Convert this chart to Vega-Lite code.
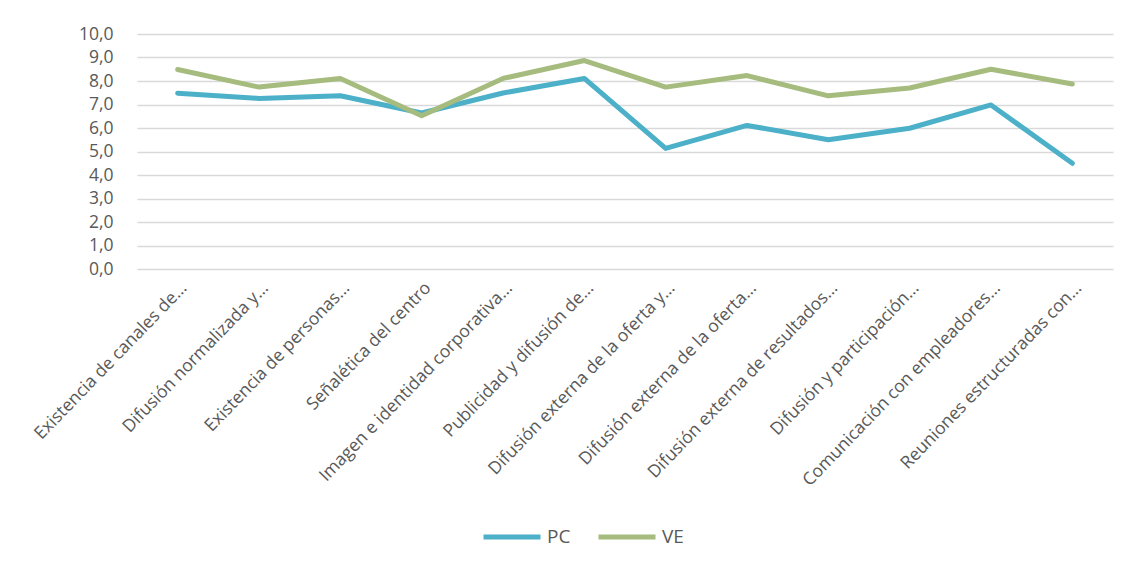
{
  "$schema": "https://vega.github.io/schema/vega-lite/v6.json",
  "width": 976,
  "height": 235,
  "autosize": {"type": "none"},
  "padding": {"left": 137, "top": 34, "right": 21, "bottom": 303},
  "background": "#ffffff",
  "config": {
    "locale": {"number": {"decimal": ",", "thousands": ".", "grouping": [3], "currency": ["", " €"]}},
    "view": {"stroke": null},
    "font": "Open Sans"
  },
  "data": {
    "values": [
      {"item": "Existencia de canales de…", "order": 1, "serie": "PC", "valor": 7.48},
      {"item": "Difusión normalizada y…", "order": 2, "serie": "PC", "valor": 7.26},
      {"item": "Existencia de personas…", "order": 3, "serie": "PC", "valor": 7.37},
      {"item": "Señalética del centro", "order": 4, "serie": "PC", "valor": 6.64},
      {"item": "Imagen e identidad corporativa…", "order": 5, "serie": "PC", "valor": 7.49},
      {"item": "Publicidad y difusión de…", "order": 6, "serie": "PC", "valor": 8.11},
      {"item": "Difusión externa de la oferta y…", "order": 7, "serie": "PC", "valor": 5.13},
      {"item": "Difusión externa de la oferta…", "order": 8, "serie": "PC", "valor": 6.11},
      {"item": "Difusión externa de resultados…", "order": 9, "serie": "PC", "valor": 5.5},
      {"item": "Difusión y participación…", "order": 10, "serie": "PC", "valor": 5.99},
      {"item": "Comunicación con empleadores…", "order": 11, "serie": "PC", "valor": 6.98},
      {"item": "Reuniones estructuradas con…", "order": 12, "serie": "PC", "valor": 4.5},
      {"item": "Existencia de canales de…", "order": 1, "serie": "VE", "valor": 8.49},
      {"item": "Difusión normalizada y…", "order": 2, "serie": "VE", "valor": 7.74},
      {"item": "Existencia de personas…", "order": 3, "serie": "VE", "valor": 8.11},
      {"item": "Señalética del centro", "order": 4, "serie": "VE", "valor": 6.52},
      {"item": "Imagen e identidad corporativa…", "order": 5, "serie": "VE", "valor": 8.11},
      {"item": "Publicidad y difusión de…", "order": 6, "serie": "VE", "valor": 8.87},
      {"item": "Difusión externa de la oferta y…", "order": 7, "serie": "VE", "valor": 7.74},
      {"item": "Difusión externa de la oferta…", "order": 8, "serie": "VE", "valor": 8.23},
      {"item": "Difusión externa de resultados…", "order": 9, "serie": "VE", "valor": 7.37},
      {"item": "Difusión y participación…", "order": 10, "serie": "VE", "valor": 7.7},
      {"item": "Comunicación con empleadores…", "order": 11, "serie": "VE", "valor": 8.5},
      {"item": "Reuniones estructuradas con…", "order": 12, "serie": "VE", "valor": 7.87}
    ]
  },
  "mark": {"type": "line", "strokeWidth": 5, "strokeCap": "round", "strokeJoin": "round"},
  "encoding": {
    "x": {
      "field": "item",
      "type": "nominal",
      "sort": {"field": "order"},
      "scale": {"paddingInner": 0, "paddingOuter": 0.5},
      "axis": {
        "title": null,
        "labelAngle": -46,
        "labelFontSize": 17.5,
        "labelColor": "#595959",
        "labelPadding": 16,
        "labelOffset": 6,
        "ticks": false,
        "domain": false,
        "labelLimit": 400
      }
    },
    "y": {
      "field": "valor",
      "type": "quantitative",
      "scale": {"domain": [0, 10], "nice": false},
      "axis": {
        "title": null,
        "values": [0, 1, 2, 3, 4, 5, 6, 7, 8, 9, 10],
        "format": ".1f",
        "labelFontSize": 17.5,
        "labelColor": "#595959",
        "labelPadding": 24,
        "ticks": false,
        "domain": false,
        "gridColor": "#D9D9D9",
        "gridWidth": 1.3
      }
    },
    "color": {
      "field": "serie",
      "type": "nominal",
      "scale": {"domain": ["PC", "VE"], "range": ["#4BB0C8", "#A6BB7E"]},
      "legend": {
        "title": null,
        "orient": "none",
        "direction": "horizontal",
        "legendX": 344,
        "legendY": 472,
        "symbolType": "stroke",
        "symbolSize": 3249,
        "symbolStrokeWidth": 5,
        "labelFontSize": 19,
        "labelColor": "#595959",
        "labelOffset": 4,
        "columnPadding": 17
      }
    }
  }
}
